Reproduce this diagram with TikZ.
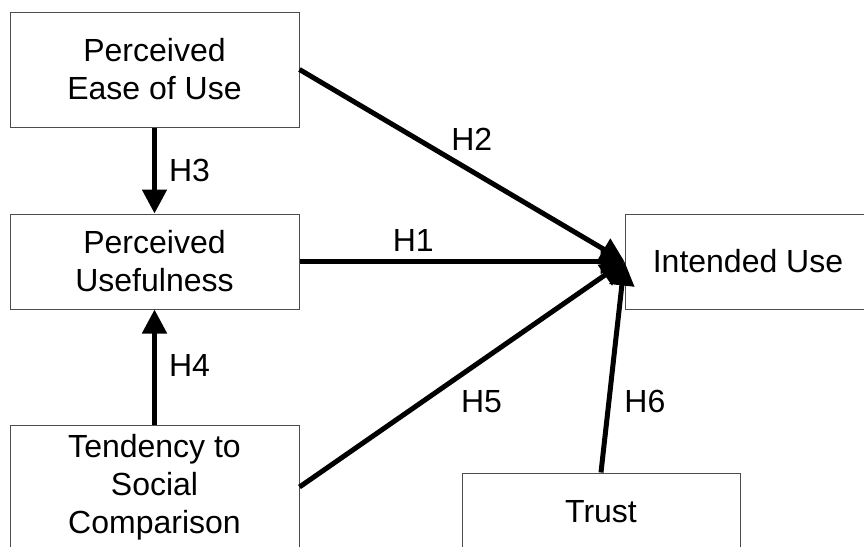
\documentclass[tikz,border=0pt]{standalone}
\usepackage{fontspec}
\setmainfont{Liberation Sans}
\usetikzlibrary{arrows.meta}

\tikzset{
    construct/.style={draw=black!70, line width=0.5pt, inner sep=0pt, align=center,
        font=\fontsize{16}{19}\selectfont},
    path/.style={line width=2.5pt, -{Triangle[length=12pt, width=12pt]}},
    hlabel/.style={font=\fontsize{16}{19}\selectfont}
}

\begin{document}
\begin{tikzpicture}[x=0.5pt, y=-0.5pt]
    \clip (0,0) rectangle (864,547);

    % Constructs
    \node[construct, minimum width=144.5pt, minimum height=57.5pt] (peou) at (154.5,69.5) {Perceived\\Ease of Use};
    \node[construct, minimum width=144.5pt, minimum height=47.5pt] (pu) at (154.5,261.5) {Perceived\\Usefulness};
    \node[construct, minimum width=144.5pt, minimum height=62pt] (tsc) at (154.5,487) {Tendency to\\Social\\Comparison};
    \node[construct, minimum width=123pt, minimum height=47.5pt] (iu) at (748,261.5) {Intended Use};
    \node[construct, minimum width=139pt, minimum height=39pt] (trust) at (601,512) {Trust};

    % Hypotheses
    \draw[path] (pu.east) -- (iu.west) node[hlabel, pos=0.35, yshift=10.5pt] {H1};
    \draw[path] (peou.east) -- (iu.west) node[hlabel, pos=0.53, yshift=16pt] {H2};
    \draw[path] (peou.south) -- (pu.north) node[hlabel, pos=0.5, xshift=17.5pt] {H3};
    \draw[path] (tsc.north) -- (pu.south) node[hlabel, pos=0.5, xshift=17.5pt, yshift=1pt] {H4};
    \draw[path] (tsc.east) -- (iu.west) node[hlabel, pos=0.56, yshift=-20.5pt] {H5};
    \draw[path] (trust.north) -- (iu.west) node[hlabel, pos=0.336, xshift=18pt] {H6};
\end{tikzpicture}
\end{document}
